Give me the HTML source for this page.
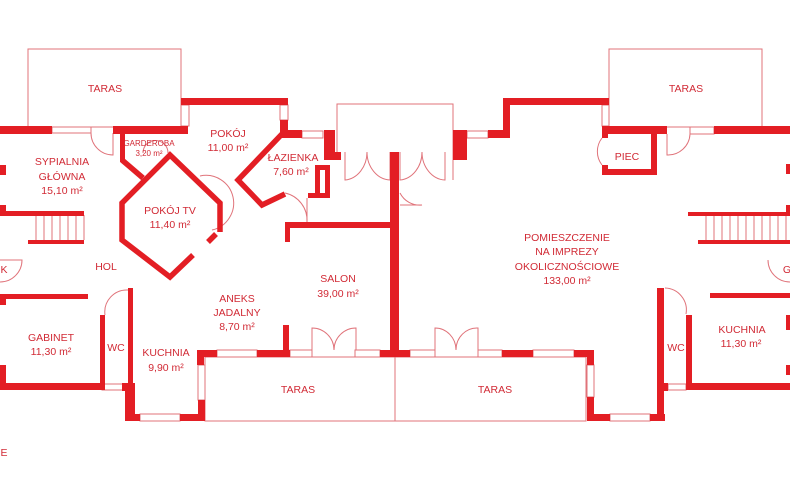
<!DOCTYPE html>
<html><head><meta charset="utf-8"><style>
html,body{margin:0;padding:0;background:#fff;width:790px;height:500px;overflow:hidden}
svg{display:block}
text{font-family:"Liberation Sans",sans-serif;fill:#d12a35;font-size:10.5px;text-anchor:middle}
</style></head><body>
<svg width="790" height="500" viewBox="0 0 790 500" xmlns="http://www.w3.org/2000/svg">
<g fill="none" stroke="#e0737a" stroke-width="1">
<rect x="28" y="49" width="153" height="78"/>
<rect x="609" y="49" width="153" height="78"/>
<polyline points="337,160 337,104 453,104 453,180"/>
<rect x="205" y="357" width="190" height="64"/>
<rect x="395" y="357" width="191" height="64"/>
<line x1="307" y1="198" x2="307" y2="222"/>
<rect x="52" y="127" width="39" height="6"/><rect x="302" y="131" width="21" height="7"/>
<rect x="467" y="131" width="21" height="7"/><rect x="690" y="127" width="24" height="7"/>
<rect x="181" y="105" width="8" height="21"/><rect x="280" y="105" width="8" height="15"/>
<rect x="602" y="105" width="7" height="21"/>
<rect x="217" y="350" width="40" height="7"/><rect x="290" y="350" width="22" height="7"/><rect x="355" y="350" width="25" height="7"/>
<rect x="410" y="350" width="25" height="7"/><rect x="478" y="350" width="24" height="7"/><rect x="533" y="350" width="41" height="7"/>
<rect x="140" y="414" width="40" height="7"/><rect x="610" y="414" width="40" height="7"/>
<rect x="198" y="365" width="7" height="35"/><rect x="587" y="365" width="7" height="32"/>
<rect x="102" y="384" width="23" height="6"/><rect x="668" y="384" width="18" height="6"/>
<path d="M91,133 A22,22 0 0 0 113,155 L113,133"/>
<path d="M667,134 L667,155 A22,22 0 0 0 690,134"/>
<path d="M602,138 A22,22 0 0 0 602,165"/>
<path d="M345,152 L345,180 A24,28 0 0 0 367,152 M390,152 L390,180 A24,28 0 0 1 367,152"/>
<path d="M400,152 L400,180 A24,28 0 0 0 422,152 M445,152 L445,180 A24,28 0 0 1 422,152"/>
<path d="M400,193 A22,22 0 0 0 422,205 L400,205"/>
<path d="M312,350 L312,328 A22,22 0 0 1 334,350 M356,350 L356,328 A22,22 0 0 0 334,350"/>
<path d="M435,350 L435,328 A21,22 0 0 1 456,350 M478,350 L478,328 A21,22 0 0 0 456,350"/>
<path d="M128,290 A22,22 0 0 0 105,315"/>
<path d="M665,288 A22,22 0 0 1 686,314"/>
<path d="M0,282 A22,22 0 0 0 22,260 L0,260"/>
<path d="M790,282 A22,22 0 0 1 768,260"/>
<path d="M200,176 A25,25 0 0 1 212,230"/>
<path d="M285,193 A28,28 0 0 1 307,222"/>
<path d="M143,153 A12,12 0 0 1 168,153"/>
<path d="M36,215V240M44,215V240M52,215V240M60,215V240M68,215V240M76,215V240M84,215V240"/>
<path d="M706,216V240M714,216V240M722,216V240M730,216V240M738,216V240M746,216V240M754,216V240M762,216V240M770,216V240M778,216V240M786,216V240"/>
</g>
<g fill="#e31e24">
<rect x="0" y="126" width="52" height="8"/><rect x="113" y="126" width="75" height="8"/>
<rect x="181" y="98" width="107" height="7"/>
<rect x="280" y="120" width="8" height="14"/><rect x="280" y="130" width="22" height="8"/>
<rect x="324" y="130" width="11" height="30"/><rect x="335" y="152" width="6" height="8"/>
<rect x="390" y="152" width="9" height="203"/>
<rect x="315" y="165" width="15" height="5"/><rect x="315" y="165" width="5" height="30"/><rect x="325" y="165" width="5" height="33"/><rect x="308" y="193" width="22" height="5"/>
<rect x="285" y="222" width="105" height="6"/><rect x="285" y="222" width="5" height="20"/>
<rect x="120" y="126" width="5" height="36"/>
<rect x="453" y="130" width="14" height="30"/><rect x="488" y="130" width="22" height="8"/><rect x="503" y="98" width="7" height="40"/>
<rect x="503" y="98" width="106" height="7"/>
<rect x="602" y="126" width="65" height="8"/><rect x="714" y="126" width="76" height="8"/>
<rect x="602" y="126" width="6" height="12"/><rect x="602" y="165" width="6" height="10"/><rect x="602" y="169" width="55" height="6"/><rect x="651" y="126" width="6" height="49"/>
<rect x="0" y="211" width="84" height="5"/><rect x="28" y="240" width="56" height="4"/>
<rect x="688" y="212" width="102" height="4"/><rect x="698" y="240" width="92" height="4"/>
<rect x="0" y="165" width="6" height="10"/><rect x="0" y="205" width="6" height="10"/>
<rect x="0" y="295" width="6" height="10"/><rect x="0" y="365" width="6" height="25"/>
<rect x="786" y="164" width="4" height="10"/><rect x="786" y="205" width="4" height="10"/>
<rect x="786" y="315" width="4" height="15"/><rect x="786" y="365" width="4" height="10"/>
<rect x="0" y="294" width="88" height="5"/><rect x="100" y="315" width="5" height="75"/><rect x="0" y="383" width="102" height="7"/>
<rect x="128" y="288" width="5" height="100"/><rect x="122" y="383" width="11" height="8"/><rect x="125" y="383" width="10" height="38"/>
<rect x="125" y="414" width="15" height="7"/><rect x="180" y="414" width="25" height="7"/><rect x="198" y="400" width="7" height="21"/>
<rect x="197" y="350" width="20" height="7"/><rect x="197" y="350" width="7" height="15"/>
<rect x="257" y="350" width="33" height="7"/><rect x="283" y="325" width="6" height="30"/><rect x="380" y="350" width="30" height="7"/>
<rect x="502" y="350" width="31" height="7"/><rect x="574" y="350" width="20" height="7"/><rect x="587" y="350" width="7" height="15"/>
<rect x="587" y="397" width="7" height="24"/><rect x="587" y="414" width="23" height="7"/><rect x="650" y="414" width="15" height="7"/><rect x="657" y="288" width="7" height="133"/>
<rect x="686" y="315" width="6" height="75"/><rect x="686" y="383" width="104" height="7"/><rect x="710" y="293" width="80" height="5"/>
<rect x="664" y="383" width="4" height="8"/>
</g>
<g fill="none" stroke="#e31e24" stroke-width="5.5" stroke-linecap="butt">
<polyline points="122,160 143,178"/>
<polyline points="220,232 220,203 170,155 122,203 122,240 170,277 193,255"/>
<line x1="216" y1="234" x2="208" y2="242"/>
<polyline points="282,134 238,180 262,205 285,194"/>
</g>
<text x="105" y="92">TARAS</text><text x="686" y="92">TARAS</text>
<text x="298" y="393">TARAS</text><text x="495" y="393">TARAS</text>
<text x="62" y="165">SYPIALNIA</text><text x="62" y="180">GŁÓWNA</text><text x="62" y="194">15,10 m²</text>
<text x="149" y="146" style="font-size:8px">GARDEROBA</text><text x="149" y="156" style="font-size:8px">3,20 m²</text>
<text x="228" y="137">POKÓJ</text><text x="228" y="151">11,00 m²</text>
<text x="293" y="161">ŁAZIENKA</text><text x="291" y="175">7,60 m²</text>
<text x="170" y="214">POKÓJ TV</text><text x="170" y="228">11,40 m²</text>
<text x="106" y="270">HOL</text>
<text x="338" y="282">SALON</text><text x="338" y="297">39,00 m²</text>
<text x="237" y="302">ANEKS</text><text x="237" y="316">JADALNY</text><text x="237" y="330">8,70 m²</text>
<text x="51" y="341">GABINET</text><text x="51" y="355">11,30 m²</text>
<text x="116" y="351">WC</text>
<text x="166" y="356">KUCHNIA</text><text x="166" y="371">9,90 m²</text>
<text x="567" y="241">POMIESZCZENIE</text><text x="567" y="255">NA IMPREZY</text><text x="567" y="270">OKOLICZNOŚCIOWE</text><text x="567" y="284">133,00 m²</text>
<text x="627" y="160">PIEC</text>
<text x="676" y="351">WC</text>
<text x="742" y="333">KUCHNIA</text><text x="741" y="347">11,30 m²</text>
<text x="4" y="273">K</text><text x="787" y="273">G</text><text x="4" y="456">E</text>
</svg>
</body></html>
